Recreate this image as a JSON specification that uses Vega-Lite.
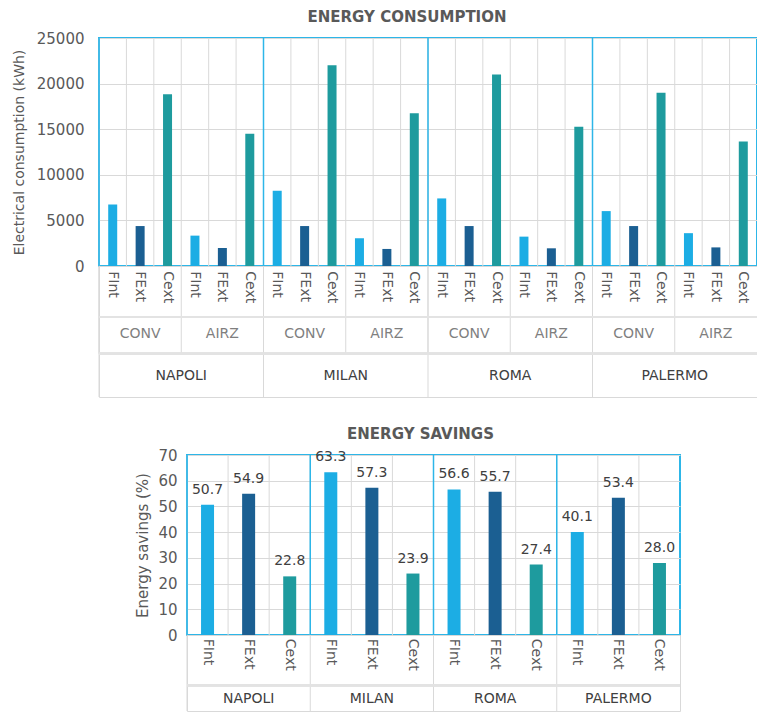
{
  "$schema": "https://vega.github.io/schema/vega-lite/v6.json",
  "padding": {"left": 11, "top": 9, "right": 0, "bottom": 0},
  "config": {"font": "DejaVu Sans", "view": {"stroke": null}, "concat": {"spacing": 0}},
  "datasets": {
    "cons": [
      {"city": "NAPOLI", "scen": "CONV", "type": "FInt", "key": "NAPOLI CONV FInt", "value": 6750},
      {"city": "NAPOLI", "scen": "CONV", "type": "FExt", "key": "NAPOLI CONV FExt", "value": 4380},
      {"city": "NAPOLI", "scen": "CONV", "type": "Cext", "key": "NAPOLI CONV Cext", "value": 18830},
      {"city": "NAPOLI", "scen": "AIRZ", "type": "FInt", "key": "NAPOLI AIRZ FInt", "value": 3330},
      {"city": "NAPOLI", "scen": "AIRZ", "type": "FExt", "key": "NAPOLI AIRZ FExt", "value": 1975},
      {"city": "NAPOLI", "scen": "AIRZ", "type": "Cext", "key": "NAPOLI AIRZ Cext", "value": 14500},
      {"city": "MILAN", "scen": "CONV", "type": "FInt", "key": "MILAN CONV FInt", "value": 8250},
      {"city": "MILAN", "scen": "CONV", "type": "FExt", "key": "MILAN CONV FExt", "value": 4380},
      {"city": "MILAN", "scen": "CONV", "type": "Cext", "key": "MILAN CONV Cext", "value": 22000},
      {"city": "MILAN", "scen": "AIRZ", "type": "FInt", "key": "MILAN AIRZ FInt", "value": 3030},
      {"city": "MILAN", "scen": "AIRZ", "type": "FExt", "key": "MILAN AIRZ FExt", "value": 1870},
      {"city": "MILAN", "scen": "AIRZ", "type": "Cext", "key": "MILAN AIRZ Cext", "value": 16750},
      {"city": "ROMA", "scen": "CONV", "type": "FInt", "key": "ROMA CONV FInt", "value": 7410},
      {"city": "ROMA", "scen": "CONV", "type": "FExt", "key": "ROMA CONV FExt", "value": 4380},
      {"city": "ROMA", "scen": "CONV", "type": "Cext", "key": "ROMA CONV Cext", "value": 20990},
      {"city": "ROMA", "scen": "AIRZ", "type": "FInt", "key": "ROMA AIRZ FInt", "value": 3220},
      {"city": "ROMA", "scen": "AIRZ", "type": "FExt", "key": "ROMA AIRZ FExt", "value": 1940},
      {"city": "ROMA", "scen": "AIRZ", "type": "Cext", "key": "ROMA AIRZ Cext", "value": 15260},
      {"city": "PALERMO", "scen": "CONV", "type": "FInt", "key": "PALERMO CONV FInt", "value": 6020},
      {"city": "PALERMO", "scen": "CONV", "type": "FExt", "key": "PALERMO CONV FExt", "value": 4380},
      {"city": "PALERMO", "scen": "CONV", "type": "Cext", "key": "PALERMO CONV Cext", "value": 18990},
      {"city": "PALERMO", "scen": "AIRZ", "type": "FInt", "key": "PALERMO AIRZ FInt", "value": 3600},
      {"city": "PALERMO", "scen": "AIRZ", "type": "FExt", "key": "PALERMO AIRZ FExt", "value": 2040},
      {"city": "PALERMO", "scen": "AIRZ", "type": "Cext", "key": "PALERMO AIRZ Cext", "value": 13650}
    ],
    "sav": [
      {"city": "NAPOLI", "type": "FInt", "key": "NAPOLI FInt", "value": 50.7},
      {"city": "NAPOLI", "type": "FExt", "key": "NAPOLI FExt", "value": 54.9},
      {"city": "NAPOLI", "type": "Cext", "key": "NAPOLI Cext", "value": 22.8},
      {"city": "MILAN", "type": "FInt", "key": "MILAN FInt", "value": 63.3},
      {"city": "MILAN", "type": "FExt", "key": "MILAN FExt", "value": 57.3},
      {"city": "MILAN", "type": "Cext", "key": "MILAN Cext", "value": 23.9},
      {"city": "ROMA", "type": "FInt", "key": "ROMA FInt", "value": 56.6},
      {"city": "ROMA", "type": "FExt", "key": "ROMA FExt", "value": 55.7},
      {"city": "ROMA", "type": "Cext", "key": "ROMA Cext", "value": 27.4},
      {"city": "PALERMO", "type": "FInt", "key": "PALERMO FInt", "value": 40.1},
      {"city": "PALERMO", "type": "FExt", "key": "PALERMO FExt", "value": 53.4},
      {"city": "PALERMO", "type": "Cext", "key": "PALERMO Cext", "value": 28.0}
    ]
  },
  "spacing": 28,
  "vconcat": [
    {
      "spacing": 0,
      "bounds": "flush",
      "vconcat": [
        {
          "width": 658,
          "height": 228,
          "title": {"text": "ENERGY CONSUMPTION", "fontSize": 15, "fontWeight": "bold", "color": "#595959", "offset": 6, "dx": -21},
          "data": {"name": "cons"},
          "view": {"stroke": "#2DB6E8", "strokeWidth": 2},
          "encoding": {
            "x": {"field": "key", "type": "nominal", "sort": null, "scale": {"paddingInner": 0, "paddingOuter": 0}, "axis": null},
            "y": {"field": "value", "type": "quantitative",
              "scale": {"domain": [0, 25000], "nice": false},
              "axis": {"title": "Electrical consumption (kWh)", "tickCount": 5, "format": "d", "labelOverlap": false, "grid": true, "gridColor": "#D9D9D9", "ticks": false, "domain": false, "labelFontSize": 15, "labelColor": "#595959", "labelPadding": 15, "titleFontSize": 14, "titleFontWeight": "normal", "titleColor": "#595959", "titlePadding": 10}}
          },
          "layer": [
            {
              "mark": {"type": "rule", "color": "#D9D9D9", "strokeWidth": 1},
              "encoding": {"x": {"field": "key", "type": "nominal", "sort": null, "bandPosition": 0}, "y": {"value": 0}, "y2": {"value": 228}}
            },
            {
              "mark": {"type": "bar", "width": 9},
              "encoding": {
                "color": {"field": "type", "type": "nominal", "scale": {"domain": ["FInt", "FExt", "Cext"], "range": ["#1CADE4", "#1B5F92", "#1E9B9E"]}, "legend": null}
              }
            },
            {
              "transform": [{"filter": "datum.type == 'FInt' && datum.scen == 'CONV'"}],
              "mark": {"type": "rule", "color": "#2DB6E8", "strokeWidth": 1.5},
              "encoding": {"x": {"field": "key", "type": "nominal", "sort": null, "bandPosition": 0}, "y": {"value": 0}, "y2": {"value": 228}}
            }
          ]
        },
        {
          "width": 658,
          "height": 131,
          "data": {"name": "cons"},
          "view": {"stroke": "#D9D9D9"},
          "layer": [
            {
              "mark": {"type": "text", "angle": 90, "align": "left", "baseline": "middle", "fontSize": 14, "color": "#595959"},
              "encoding": {
                "x": {"field": "key", "type": "nominal", "sort": null, "scale": {"paddingInner": 0, "paddingOuter": 0}, "axis": null},
                "y": {"datum": 0.4, "scale": {"domain": [0, 10], "reverse": true}, "axis": null},
                "text": {"field": "type"}
              }
            },
            {
              "transform": [{"filter": "datum.type == 'FExt'"}],
              "mark": {"type": "text", "align": "center", "baseline": "middle", "fontSize": 14, "color": "#7F7F7F"},
              "encoding": {
                "x": {"field": "key", "type": "nominal", "sort": null},
                "y": {"datum": 5.2},
                "text": {"field": "scen"}
              }
            },
            {
              "transform": [{"filter": "datum.type == 'FInt' && datum.scen == 'AIRZ'"}],
              "mark": {"type": "text", "align": "center", "baseline": "middle", "fontSize": 14, "color": "#404040"},
              "encoding": {
                "x": {"field": "key", "type": "nominal", "sort": null, "bandPosition": 0},
                "y": {"datum": 8.4},
                "text": {"field": "city"}
              }
            },
            {
              "transform": [{"filter": "datum.type == 'FInt'"}],
              "mark": {"type": "rule", "color": "#D9D9D9"},
              "encoding": {
                "x": {"field": "key", "type": "nominal", "sort": null, "bandPosition": 0},
                "y": {"datum": 0},
                "y2": {"datum": 6.7}
              }
            },
            {
              "transform": [{"filter": "datum.type == 'FInt' && datum.scen == 'CONV'"}],
              "mark": {"type": "rule", "color": "#D9D9D9"},
              "encoding": {
                "x": {"field": "key", "type": "nominal", "sort": null, "bandPosition": 0},
                "y": {"datum": 0},
                "y2": {"datum": 10}
              }
            },
            {
              "mark": {"type": "rule", "color": "#E3E3E3", "strokeWidth": 2},
              "encoding": {"y": {"datum": 3.9}}
            },
            {
              "mark": {"type": "rule", "color": "#E3E3E3", "strokeWidth": 2},
              "encoding": {"y": {"datum": 6.7}}
            }
          ]
        }
      ]
    },
    {
      "spacing": 0,
      "hconcat": [
        {
          "width": 35,
          "height": 10,
          "data": {"values": []},
          "mark": "point"
        },
        {
          "spacing": 0,
          "bounds": "flush",
          "vconcat": [
            {
              "width": 493,
              "height": 180,
              "title": {"text": "ENERGY SAVINGS", "fontSize": 15, "fontWeight": "bold", "color": "#595959", "offset": 6, "dx": -13},
              "data": {"name": "sav"},
              "view": {"stroke": "#2DB6E8", "strokeWidth": 2},
              "encoding": {
                "x": {"field": "key", "type": "nominal", "sort": null, "scale": {"paddingInner": 0, "paddingOuter": 0}, "axis": null},
                "y": {"field": "value", "type": "quantitative",
                  "scale": {"domain": [0, 70], "nice": false},
                  "axis": {"title": "Energy savings (%)", "tickCount": 7, "labelOverlap": false, "grid": true, "gridColor": "#D9D9D9", "ticks": false, "domain": false, "labelFontSize": 15, "labelColor": "#595959", "labelPadding": 10, "titleFontSize": 15, "titleFontWeight": "normal", "titleColor": "#595959", "titlePadding": 7}}
              },
              "layer": [
                {
                  "mark": {"type": "rule", "color": "#D9D9D9", "strokeWidth": 1},
                  "encoding": {"x": {"field": "key", "type": "nominal", "sort": null, "bandPosition": 0}, "y": {"value": 0}, "y2": {"value": 180}}
                },
                {
                  "mark": {"type": "bar", "width": 13},
                  "encoding": {
                    "color": {"field": "type", "type": "nominal", "scale": {"domain": ["FInt", "FExt", "Cext"], "range": ["#1CADE4", "#1B5F92", "#1E9B9E"]}, "legend": null}
                  }
                },
                {
                  "mark": {"type": "text", "baseline": "bottom", "dy": -8, "fontSize": 14, "color": "#404040"},
                  "encoding": {
                    "text": {"field": "value", "type": "quantitative", "format": ".1f"}
                  }
                },
                {
                  "transform": [{"filter": "datum.type == 'FInt'"}],
                  "mark": {"type": "rule", "color": "#2DB6E8", "strokeWidth": 1.5},
                  "encoding": {"x": {"field": "key", "type": "nominal", "sort": null, "bandPosition": 0}, "y": {"value": 0}, "y2": {"value": 180}}
                }
              ]
            },
            {
              "width": 493,
              "height": 76,
              "data": {"name": "sav"},
              "view": {"stroke": "#D9D9D9"},
              "layer": [
                {
                  "mark": {"type": "text", "angle": 90, "align": "left", "baseline": "middle", "fontSize": 14, "color": "#595959"},
                  "encoding": {
                    "x": {"field": "key", "type": "nominal", "sort": null, "scale": {"paddingInner": 0, "paddingOuter": 0}, "axis": null},
                    "y": {"datum": 0.5, "scale": {"domain": [0, 10], "reverse": true}, "axis": null},
                    "text": {"field": "type"}
                  }
                },
                {
                  "transform": [{"filter": "datum.type == 'FExt'"}],
                  "mark": {"type": "text", "align": "center", "baseline": "middle", "fontSize": 14, "color": "#404040"},
                  "encoding": {
                    "x": {"field": "key", "type": "nominal", "sort": null},
                    "y": {"datum": 8.4},
                    "text": {"field": "city"}
                  }
                },
                {
                  "transform": [{"filter": "datum.type == 'FInt'"}],
                  "mark": {"type": "rule", "color": "#D9D9D9"},
                  "encoding": {
                    "x": {"field": "key", "type": "nominal", "sort": null, "bandPosition": 0},
                    "y": {"datum": 0},
                    "y2": {"datum": 10}
                  }
                },
                {
                  "mark": {"type": "rule", "color": "#E3E3E3", "strokeWidth": 2},
                  "encoding": {"y": {"datum": 6.6}}
                }
              ]
            }
          ]
        }
      ]
    }
  ]
}
